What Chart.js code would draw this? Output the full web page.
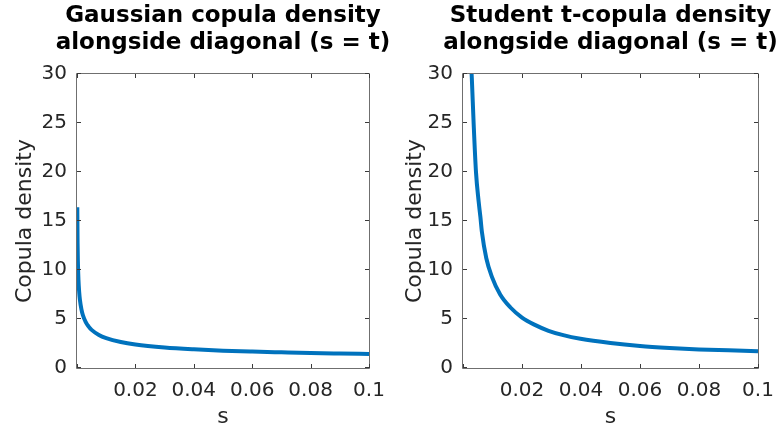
<!DOCTYPE html>
<html>
<head>
<meta charset="utf-8">
<script src="https://cdn.jsdelivr.net/npm/chart.js@4.4.0/dist/chart.umd.min.js"></script>
<style>
  html, body { margin: 0; padding: 0; background: #ffffff; }
  #wrap { position: relative; width: 781px; height: 430px; overflow: hidden; background: #ffffff; }
  canvas { position: absolute; top: 0; }
</style>
</head>
<body>
<div id="wrap">
  <canvas id="c1" width="446" height="430" style="left:0px;width:446px;height:430px"></canvas>
  <canvas id="c2" width="441" height="430" style="left:390px;width:441px;height:430px"></canvas>
</div>
<script>
// ---- data ----
const gaussS = [0.0001, 0.0002, 0.0003, 0.0005, 0.00075, 0.001, 0.0015, 0.002, 0.003, 0.004, 0.005, 0.0075, 0.01, 0.015, 0.02, 0.03, 0.04, 0.05, 0.06, 0.07, 0.08, 0.09, 0.1];
const gaussDensity = [16.4, 12.7, 10.9, 9.0, 7.75, 6.97, 6.01, 5.41, 4.68, 4.22, 3.89, 3.37, 3.05, 2.65, 2.40, 2.10, 1.91, 1.77, 1.675, 1.60, 1.53, 1.48, 1.435];

const studS = [0.0025, 0.0030, 0.0036, 0.0044, 0.0053, 0.0059, 0.0064, 0.0079, 0.0098, 0.0126, 0.016, 0.020, 0.0240, 0.0290, 0.0340, 0.0398, 0.05, 0.06, 0.07, 0.08, 0.09, 0.1];
const studDensity = [32.5, 29.5, 25.0, 20.0, 17.0, 15.4, 13.9, 11.2, 9.3, 7.5, 6.2, 5.15, 4.45, 3.8, 3.35, 2.98, 2.55, 2.25, 2.05, 1.9, 1.8, 1.7];

const xTicks = [0, 0.02, 0.04, 0.06, 0.08, 0.1];
const xTickLabels = ['', '0.02', '0.04', '0.06', '0.08', '0.1'];
const yTicks = [0, 5, 10, 15, 20, 25, 30];

const titles1 = ['Gaussian copula density', 'alongside diagonal (s = t)'];
const titles2 = ['Student t-copula density', 'alongside diagonal (s = t)'];
const xLabel = 's';
const yLabel = 'Copula density';

const FONT = 'DejaVu Sans';
const TEXT = '#262626';
const AXIS = '#6f6f6f';
const LINE = '#0072BD';

// box + inward ticks on all four sides (MATLAB style)
const boxPlugin = {
  id: 'boxTicks',
  afterDatasetsDraw(chart) {
    const {ctx, chartArea: a, scales: {x, y}} = chart;
    ctx.save();
    ctx.strokeStyle = AXIS;
    ctx.lineWidth = 1;
    ctx.beginPath();
    ctx.rect(Math.round(a.left) - 0.5, Math.round(a.top) - 0.5, Math.round(a.right - a.left) + 1, Math.round(a.bottom - a.top) + 1);
    ctx.stroke();
    const tl = 4;
    ctx.strokeStyle = '#3a3a3a';
    ctx.beginPath();
    xTicks.forEach(v => {
      const px = Math.round(x.getPixelForValue(v)) + 0.5;
      ctx.moveTo(px, a.bottom); ctx.lineTo(px, a.bottom - tl);
      ctx.moveTo(px, a.top); ctx.lineTo(px, a.top + tl);
    });
    yTicks.forEach(v => {
      const py = Math.round(y.getPixelForValue(v)) - 0.5;
      ctx.moveTo(a.left, py); ctx.lineTo(a.left + tl, py);
      ctx.moveTo(a.right, py); ctx.lineTo(a.right - tl, py);
    });
    ctx.stroke();
    ctx.restore();
  }
};

function makeChart(id, s, d, title, area) {
  const pts = s.map((v, i) => ({x: v, y: d[i]}));
  const tSize = 23, tLH = 1.18;
  return new Chart(document.getElementById(id), {
    type: 'line',
    data: { datasets: [{ data: pts, borderColor: LINE, borderWidth: 4, pointRadius: 0, fill: false, cubicInterpolationMode: 'monotone' }] },
    options: {
      responsive: false, animation: false, devicePixelRatio: 1,
      layout: { padding: 0 },
      plugins: {
        legend: { display: false }, tooltip: { enabled: false },
        title: {
          display: true, text: title, color: '#000000',
          font: { family: FONT, size: tSize, weight: 'bold', lineHeight: tLH },
          padding: { top: 2, bottom: area.top - 2 - 2 * tSize * tLH }
        }
      },
      scales: {
        x: {
          type: 'linear', min: 0, max: 0.1,
          grid: { display: false, drawTicks: false },
          border: { display: false },
          afterBuildTicks: sc => { sc.ticks = xTicks.map(v => ({value: v})); },
          afterFit: sc => { sc.height = 430 - area.bottom; },
          ticks: { color: TEXT, font: { family: FONT, size: 20 }, padding: 11, maxRotation: 0, autoSkip: false,
                   callback: (v) => { const i = xTicks.indexOf(v); return i >= 0 ? xTickLabels[i] : ''; } },
          title: { display: true, text: xLabel, color: TEXT, font: { family: FONT, size: 22 }, padding: { top: 0, bottom: 0 } }
        },
        y: {
          type: 'linear', min: 0, max: 30, position: 'left',
          grid: { display: false, drawTicks: false },
          border: { display: false },
          afterBuildTicks: sc => { sc.ticks = yTicks.map(v => ({value: v})); },
          afterFit: sc => { sc.width = area.left; },
          ticks: { color: TEXT, font: { family: FONT, size: 20 }, padding: 10, autoSkip: false },
          title: { display: true, text: yLabel, color: TEXT, font: { family: FONT, size: 22 }, padding: { top: 12, bottom: 0 } }
        },
        yPad: {
          type: 'linear', min: 0, max: 30, position: 'right', display: true,
          grid: { display: false, drawTicks: false },
          border: { display: false },
          ticks: { display: false },
          afterFit: sc => { sc.width = area.padRight; }
        }
      }
    },
    plugins: [boxPlugin]
  });
}

// left canvas spans 0..446 (centre 223 = plot centre); right canvas spans 390..831 (centre 610.5)
makeChart('c1', gaussS, gaussDensity, titles1, {left: 77, padRight: 77, top: 74, bottom: 368});
makeChart('c2', studS, studDensity, titles2, {left: 73, padRight: 73, top: 74, bottom: 368});
</script>
</body>
</html>
